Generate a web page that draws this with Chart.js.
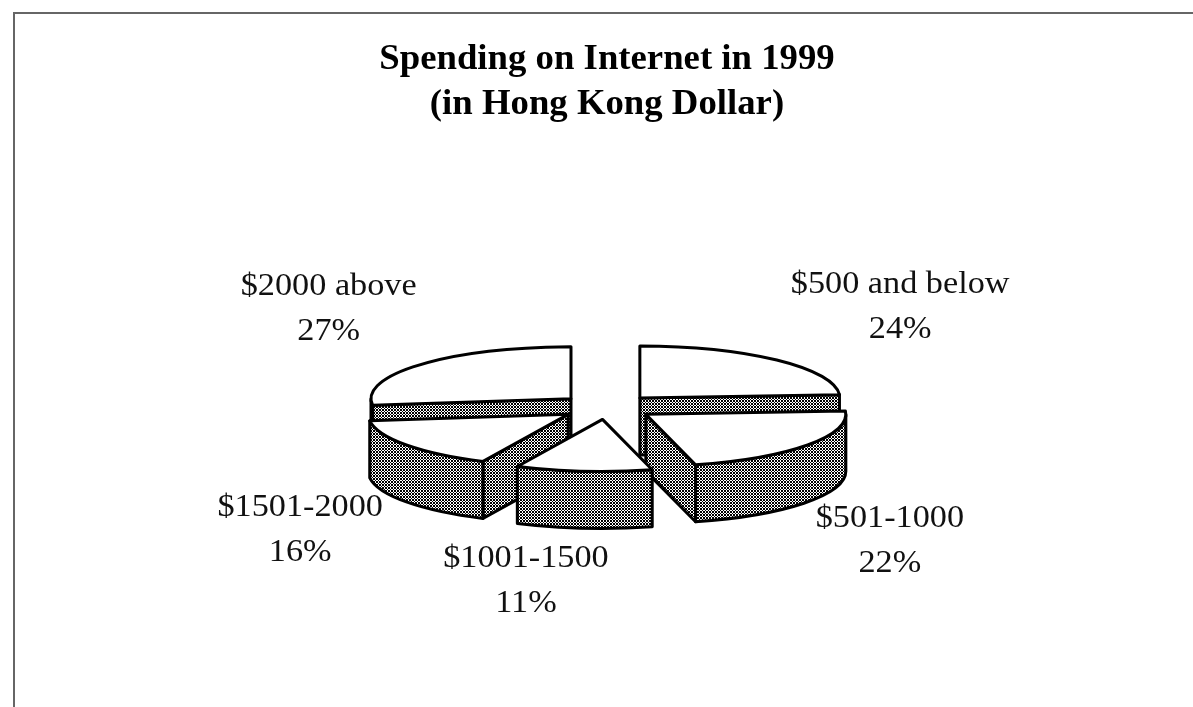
<!DOCTYPE html>
<html>
<head>
<meta charset="utf-8">
<title>Spending on Internet in 1999</title>
<script src="https://cdn.jsdelivr.net/npm/chart.js@4.4.1/dist/chart.umd.min.js"></script>
<style>
  html, body { margin: 0; padding: 0; background: #fff; }
  canvas { display: block; }
</style>
</head>
<body>
<canvas id="pie" width="1193" height="707"></canvas>
<script>
// --- data ---
const categories = ['$500 and below', '$501-1000', '$1001-1500', '$1501-2000', '$2000 above'];
const shares = [24, 22, 11, 16, 27];
const titleLines = ['Spending on Internet in 1999', '(in Hong Kong Dollar)'];

// --- 3D look ---
const TILT = 0.26;      // vertical squash of the pie top
const DEPTH = 57;       // thickness of the pie
const EXPLODE = 48;     // how far each slice is pulled out
const OUTLINE = 3;
const LABEL_RX = 335;
const LABEL_RY = 125;
// small hand tweaks so labels sit where the original put them (px, per slice)
const LABEL_NUDGE = [[31, -3], [-27, 3], [-45, -13], [3, -8], [9, -10]];
const SERIF = '"Liberation Serif", "Times New Roman", serif';

function hatchPattern(ctx) {
    const tile = document.createElement('canvas');
    tile.width = 3;
    tile.height = 3;
    const t = tile.getContext('2d');
    t.fillStyle = '#fff';
    t.fillRect(0, 0, 3, 3);
    t.fillStyle = '#000';
    for (let x = 0; x < 3; x++) {
        for (let y = 0; y < 3; y++) {
            if ((x + y) % 3 === 0 || ((x - y) % 3 + 3) % 3 === 0) t.fillRect(x, y, 1, 1);
        }
    }
    return ctx.createPattern(tile, 'repeat');
}

// top-face ellipse of a slice, pulled out along its middle angle
function sliceGeom(el) {
    const mid = (el.startAngle + el.endAngle) / 2;
    const R = el.outerRadius;
    return {
        ax: el.x + Math.cos(mid) * EXPLODE,
        ay: el.y + Math.sin(mid) * EXPLODE * TILT,
        R, r: R * TILT,
        a1: el.startAngle, a2: el.endAngle, mid
    };
}

function stretchedText(ctx, text, x, y, sx) {
    ctx.save();
    ctx.translate(x, y);
    ctx.scale(sx, 1);
    ctx.fillText(text, 0, 0);
    ctx.restore();
}

const frameAndTitle = {
    id: 'frameAndTitle',
    beforeDraw(chart) {
        const ctx = chart.ctx;
        ctx.save();
        ctx.fillStyle = '#fff';
        ctx.fillRect(0, 0, chart.width, chart.height);
        ctx.strokeStyle = '#666';
        ctx.lineWidth = 2;
        ctx.beginPath();
        ctx.moveTo(14, chart.height);
        ctx.lineTo(14, 13);
        ctx.lineTo(chart.width, 13);
        ctx.stroke();

        ctx.fillStyle = '#000';
        ctx.textAlign = 'center';
        ctx.font = 'bold 35px ' + SERIF;
        titleLines.forEach((line, i) => stretchedText(ctx, line, 607, 69 + i * 45, 1.05));
        ctx.restore();
    }
};

const pie3d = {
    id: 'pie3d',
    beforeDatasetsDraw(chart) {
        const ctx = chart.ctx;
        const meta = chart.getDatasetMeta(0);
        const hatch = hatchPattern(ctx);
        const order = meta.data
            .map(el => ({ el, g: sliceGeom(el) }))
            .sort((p, q) => p.g.ay - q.g.ay);

        ctx.save();
        ctx.lineWidth = OUTLINE;
        ctx.lineJoin = 'round';
        ctx.strokeStyle = '#000';

        for (const { el, g } of order) {
            const { ax, ay, R, r, a1, a2 } = g;

            // cut faces that look towards the viewer
            const face = a => {
                const x = ax + R * Math.cos(a), y = ay + r * Math.sin(a);
                ctx.beginPath();
                ctx.moveTo(ax, ay);
                ctx.lineTo(x, y);
                ctx.lineTo(x, y + DEPTH);
                ctx.lineTo(ax, ay + DEPTH);
                ctx.closePath();
                ctx.fillStyle = hatch;
                ctx.fill();
                ctx.stroke();
            };
            if (Math.cos(a1) < -1e-6) face(a1);
            if (Math.cos(a2) > 1e-6) face(a2);

            // outer wall, front half only
            const s = Math.max(a1, 0), e = Math.min(a2, Math.PI);
            if (e > s) {
                ctx.beginPath();
                ctx.ellipse(ax, ay, R, r, 0, s, e);
                ctx.ellipse(ax, ay + DEPTH, R, r, 0, e, s, true);
                ctx.closePath();
                ctx.fillStyle = hatch;
                ctx.fill();
                ctx.stroke();
            }

            // top face: the arc element itself, squashed
            ctx.save();
            ctx.translate(ax, ay);
            ctx.scale(1, TILT);
            ctx.translate(-el.x, -el.y);
            el.draw(ctx);
            ctx.restore();

            ctx.beginPath();
            ctx.moveTo(ax, ay);
            ctx.ellipse(ax, ay, R, r, 0, a1, a2);
            ctx.closePath();
            ctx.stroke();
        }
        ctx.restore();
        return false;
    }
};

const sliceLabels = {
    id: 'sliceLabels',
    afterDraw(chart) {
        const ctx = chart.ctx;
        const meta = chart.getDatasetMeta(0);
        const total = shares.reduce((a, b) => a + b, 0);
        ctx.save();
        ctx.fillStyle = '#111';
        ctx.textAlign = 'center';
        ctx.font = '32px ' + SERIF;
        meta.data.forEach((el, i) => {
            const g = sliceGeom(el);
            const cos = Math.cos(g.mid), sin = Math.sin(g.mid);
            const cx = g.ax + cos * LABEL_RX + LABEL_NUDGE[i][0];
            const cy = g.ay + sin * LABEL_RY + (sin > 0 ? DEPTH - 10 : 0) + LABEL_NUDGE[i][1];
            const pct = Math.round(shares[i] / total * 100) + '%';
            stretchedText(ctx, categories[i], cx, cy - 11, 1.07);
            stretchedText(ctx, pct, cx, cy + 34, 1.07);
        });
        ctx.restore();
    }
};

new Chart(document.getElementById('pie'), {
    type: 'pie',
    data: {
        labels: categories,
        datasets: [{
            data: shares,
            backgroundColor: '#fff',
            borderWidth: 0,
            radius: 200
        }]
    },
    options: {
        responsive: false,
        animation: false,
        events: [],
        radius: 200,
        layout: { padding: { left: 221, right: 200, top: 307, bottom: 200 } },
        plugins: {
            legend: { display: false },
            tooltip: { enabled: false }
        }
    },
    plugins: [frameAndTitle, pie3d, sliceLabels]
});
</script>
</body>
</html>
